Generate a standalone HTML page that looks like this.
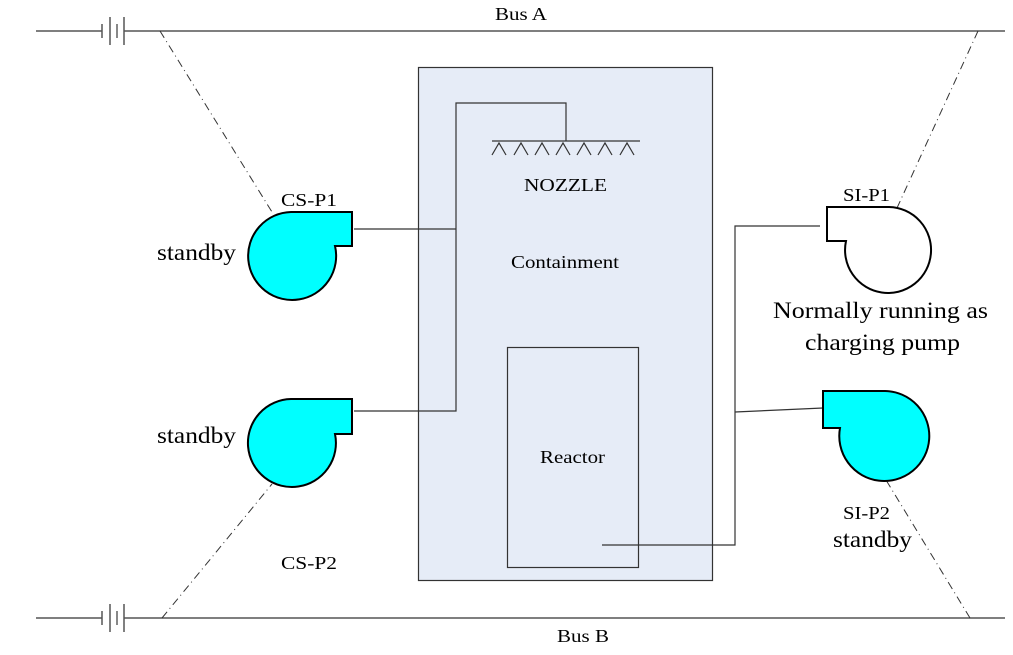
<!DOCTYPE html>
<html><head><meta charset="utf-8"><style>
html,body{margin:0;padding:0;background:#fff;}
svg{display:block;font-family:"Liberation Serif",serif;}
</style></head><body>
<svg width="1013" height="655" viewBox="0 0 1013 655" xmlns="http://www.w3.org/2000/svg">
<g stroke="#555" stroke-width="1.5" fill="none">
 <line x1="36" y1="31" x2="102" y2="31"/>
 <line x1="102" y1="24" x2="102" y2="38"/>
 <line x1="110" y1="17" x2="110" y2="45"/>
 <line x1="117" y1="24" x2="117" y2="38" stroke="#888" stroke-width="2"/>
 <line x1="124" y1="17" x2="124" y2="45"/>
 <line x1="124" y1="31" x2="1005" y2="31"/>
 <line x1="36" y1="618" x2="102" y2="618"/>
 <line x1="102" y1="611" x2="102" y2="625"/>
 <line x1="110" y1="604" x2="110" y2="632"/>
 <line x1="117" y1="611" x2="117" y2="625" stroke="#888" stroke-width="2"/>
 <line x1="124" y1="604" x2="124" y2="632"/>
 <line x1="124" y1="618" x2="1005" y2="618"/>
</g>
<g stroke="#333" stroke-width="1" fill="none" stroke-dasharray="8,4,1,4">
 <line x1="160" y1="31" x2="272" y2="212"/>
 <line x1="978" y1="31" x2="897" y2="208"/>
 <line x1="162" y1="618" x2="272" y2="484"/>
 <line x1="970" y1="618" x2="886" y2="480"/>
</g>
<rect x="418.5" y="67.5" width="294" height="513" fill="#e6ecf7" stroke="#333" stroke-width="1.2"/>
<rect x="507.5" y="347.5" width="131" height="220" fill="#e6ecf7" stroke="#333" stroke-width="1.2"/>
<g stroke="#333" stroke-width="1.2" fill="none">
 <polyline points="354,229 456,229"/>
 <polyline points="354,411 456,411 456,103 566,103 566,141"/>
 <line x1="492" y1="141" x2="640" y2="141"/>
 <path d="M492,155 L499,143 L506,155 M514,155 L521,143 L528,155 M535,155 L542,143 L549,155 M556,155 L563,143 L570,155 M577,155 L584,143 L591,155 M598,155 L605,143 L612,155 M620,155 L627,143 L634,155"/>
 <polyline points="602,545 735,545 735,226 820,226"/>
 <line x1="735" y1="412" x2="823" y2="408"/>
</g>
<g stroke="#000" stroke-width="2">
 <path d="M291,212 L352,212 L352,246 L335,246 A44,44 0 1,1 291,212 Z" fill="#00ffff"/>
 <path d="M291,399 L352,399 L352,434 L335,434 A44,44 0 1,1 291,399 Z" fill="#00ffff"/>
 <path d="M889,207 L827,207 L827,241 L846,241 A43,43 0 1,0 889,207 Z" fill="#fff"/>
 <path d="M885,391 L823,391 L823,428 L840,428 A45,45 0 1,0 885,391 Z" fill="#00ffff"/>
</g>
<g fill="#000" font-size="18" lengthAdjust="spacingAndGlyphs">
 <text x="495" y="20" textLength="52" lengthAdjust="spacingAndGlyphs">Bus A</text>
 <text x="557" y="642" textLength="52" lengthAdjust="spacingAndGlyphs">Bus B</text>
 <text x="281" y="206" textLength="56" lengthAdjust="spacingAndGlyphs">CS-P1</text>
 <text x="281" y="569" textLength="56" lengthAdjust="spacingAndGlyphs">CS-P2</text>
 <text x="843" y="201" textLength="47" lengthAdjust="spacingAndGlyphs">SI-P1</text>
 <text x="843" y="519" textLength="47" lengthAdjust="spacingAndGlyphs">SI-P2</text>
 <text x="524" y="191" textLength="83" lengthAdjust="spacingAndGlyphs">NOZZLE</text>
 <text x="511" y="268" textLength="108" lengthAdjust="spacingAndGlyphs">Containment</text>
 <text x="540" y="463" textLength="65" lengthAdjust="spacingAndGlyphs">Reactor</text>
</g>
<g fill="#000" font-size="23">
 <text x="157" y="260" textLength="79" lengthAdjust="spacingAndGlyphs">standby</text>
 <text x="157" y="443" textLength="79" lengthAdjust="spacingAndGlyphs">standby</text>
 <text x="833" y="547" textLength="79" lengthAdjust="spacingAndGlyphs">standby</text>
 <text x="773" y="318" textLength="215" lengthAdjust="spacingAndGlyphs">Normally running as</text>
 <text x="805" y="350" textLength="155" lengthAdjust="spacingAndGlyphs">charging pump</text>
</g>
</svg>
</body></html>
